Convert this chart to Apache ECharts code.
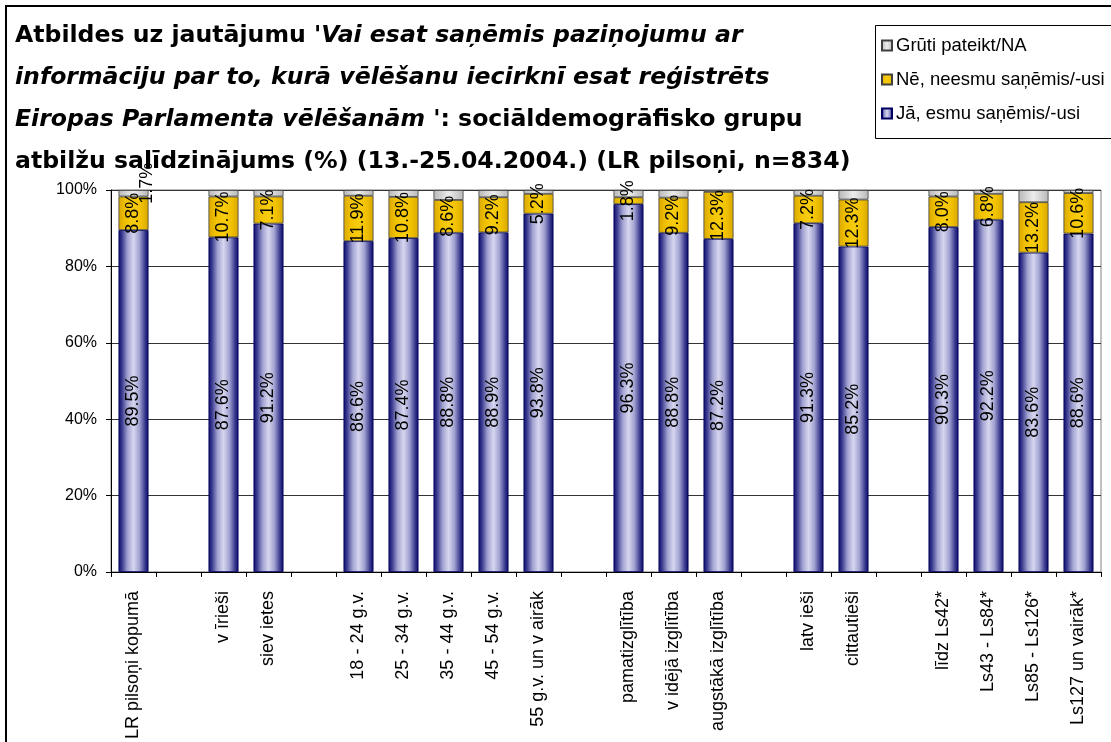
<!DOCTYPE html>
<html>
<head>
<meta charset="utf-8">
<script src="https://cdn.jsdelivr.net/npm/echarts@6/dist/echarts.min.js"></script>
<style>
html,body{margin:0;padding:0;background:#fff;}
#c{width:1111px;height:742px;}
</style>
</head>
<body>
<div id="c"></div>
<script>
const categories = ['LR pilsoņi kopumā', '', 'v īrieši', 'siev ietes', '', '18 - 24 g.v.', '25 - 34 g.v.', '35 - 44 g.v.', '45 - 54 g.v.', '55 g.v. un v airāk', '', 'pamatizglītība', 'v idējā izglītība', 'augstākā izglītība', '', 'latv ieši', 'cittautieši', '', 'līdz Ls42*', 'Ls43 - Ls84*', 'Ls85 - Ls126*', 'Ls127 un vairāk*'];
const yesValues = [89.5, null, 87.6, 91.2, null, 86.6, 87.4, 88.8, 88.9, 93.8, null, 96.3, 88.8, 87.2, null, 91.3, 85.2, null, 90.3, 92.2, 83.6, 88.6];
const noValues  = [8.8, null, 10.7, 7.1, null, 11.9, 10.8, 8.6, 9.2, 5.2, null, 1.8, 9.2, 12.3, null, 7.2, 12.3, null, 8.0, 6.8, 13.2, 10.6];
const naValues  = [1.7, null, 1.7, 1.7, null, 1.5, 1.8, 2.6, 1.9, 1.0, null, 1.9, 2.0, 0.5, null, 1.5, 2.5, null, 1.7, 1.0, 3.2, 0.8];
const seriesNames = ['Jā, esmu saņēmis/-usi', 'Nē, neesmu saņēmis/-usi', 'Grūti pateikt/NA'];
const yTicks = [0, 20, 40, 60, 80, 100];

const blueGrad = {type:'linear', x:0, y:0, x2:1, y2:0, colorStops:[
  {offset:0, color:'#0a0a6a'}, {offset:0.12, color:'#3c3c90'}, {offset:0.3, color:'#a0a0d0'},
  {offset:0.5, color:'#d6d6ee'}, {offset:0.7, color:'#a0a0d0'}, {offset:0.88, color:'#3c3c90'}, {offset:1, color:'#060660'}]};
const yellowGrad = {type:'linear', x:0, y:0, x2:1, y2:0, colorStops:[
  {offset:0, color:'#d9a800'}, {offset:0.25, color:'#f2c200'}, {offset:0.5, color:'#f7cc10'}, {offset:0.75, color:'#f2c200'}, {offset:1, color:'#d9a800'}]};
const grayGrad = {type:'linear', x:0, y:0, x2:1, y2:0, colorStops:[
  {offset:0, color:'#b8b8b8'}, {offset:0.5, color:'#ececec'}, {offset:1, color:'#b8b8b8'}]};

const fmt = p => (p.value == null ? '' : p.value.toFixed(1) + '%');
const labelStyle = {show:true, position:'inside', rotate:90, color:'#000', fontFamily:'Arial, Liberation Sans', fontSize:18, formatter:fmt};

const chart = echarts.init(document.getElementById('c'), null, {renderer:'canvas'});
chart.setOption({
  animation:false,
  backgroundColor:'#fff',
  title:{
    left:10, top:10,
    text:"{b|Atbildes uz jautājumu }{bi|'Vai esat saņēmis paziņojumu ar}\n{bi|informāciju par to, kurā vēlēšanu iecirknī esat reģistrēts}\n{bi|Eiropas Parlamenta vēlēšanām '}{b|: sociāldemogrāfisko grupu}\n{b|atbilžu salīdzinājums (%) (13.-25.04.2004.) (LR pilsoņi, n=834)}",
    textStyle:{
      rich:{
        b:{fontFamily:'DejaVu Sans', fontWeight:'bold', fontSize:23.6, color:'#000', lineHeight:42},
        bi:{fontFamily:'DejaVu Sans', fontWeight:'bold', fontStyle:'italic', fontSize:23.6, color:'#000', lineHeight:42}
      }
    }
  },
  graphic:[
    {type:'rect', shape:{x:6, y:6, width:1200, height:800}, style:{fill:null, stroke:'#000', lineWidth:2}, silent:true, z:100},
    {type:'rect', shape:{x:875.5, y:25.5, width:300, height:113}, style:{fill:'#fff', stroke:'#000', lineWidth:1}, silent:true, z:-1}
  ],
  legend:{
    left:876, top:31, orient:'vertical', itemGap:15,
    itemWidth:10, itemHeight:10, icon:'rect',
    data:[seriesNames[2], seriesNames[1], seriesNames[0]],
    textStyle:{fontFamily:'Arial, Liberation Sans', fontSize:18.5, color:'#000', padding:[0,0,0,-1]}
  },
  grid:{left:111, right:10, top:190, bottom:169, show:true, borderColor:'#808080', borderWidth:1},
  xAxis:{
    type:'category', data:categories,
    axisLine:{lineStyle:{color:'#000', width:1}},
    axisTick:{show:true, interval:0, length:5, lineStyle:{color:'#000'}},
    axisLabel:{interval:0, rotate:90, margin:19, color:'#000', fontFamily:'Arial, Liberation Sans', fontSize:18}
  },
  yAxis:{
    type:'value', min:yTicks[0], max:yTicks[yTicks.length-1], interval:20,
    axisLine:{show:true, lineStyle:{color:'#000', width:1}},
    axisTick:{show:true, length:5, lineStyle:{color:'#000'}},
    axisLabel:{formatter:'{value}%', color:'#000', fontFamily:'Arial, Liberation Sans', fontSize:16, margin:14},
    splitLine:{show:true, lineStyle:{color:'#333', width:1}}
  },
  series:[
    {name:seriesNames[0], type:'bar', stack:'s', barWidth:30, data:yesValues,
      itemStyle:{color:blueGrad, borderColor:'#000060', borderWidth:0.8}, label:labelStyle},
    {name:seriesNames[1], type:'bar', stack:'s', barWidth:30, data:noValues,
      itemStyle:{color:yellowGrad, borderColor:'#404040', borderWidth:0.8}, label:labelStyle},
    {name:seriesNames[2], type:'bar', stack:'s', barWidth:30,
      data:naValues.map((v,i)=> i===0 ? {value:v, label:{show:true, offset:[10,14]}} : v),
      itemStyle:{color:grayGrad, borderColor:'#404040', borderWidth:0.8},
      label:Object.assign({}, labelStyle, {show:false})}
  ]
});
</script>
</body>
</html>
